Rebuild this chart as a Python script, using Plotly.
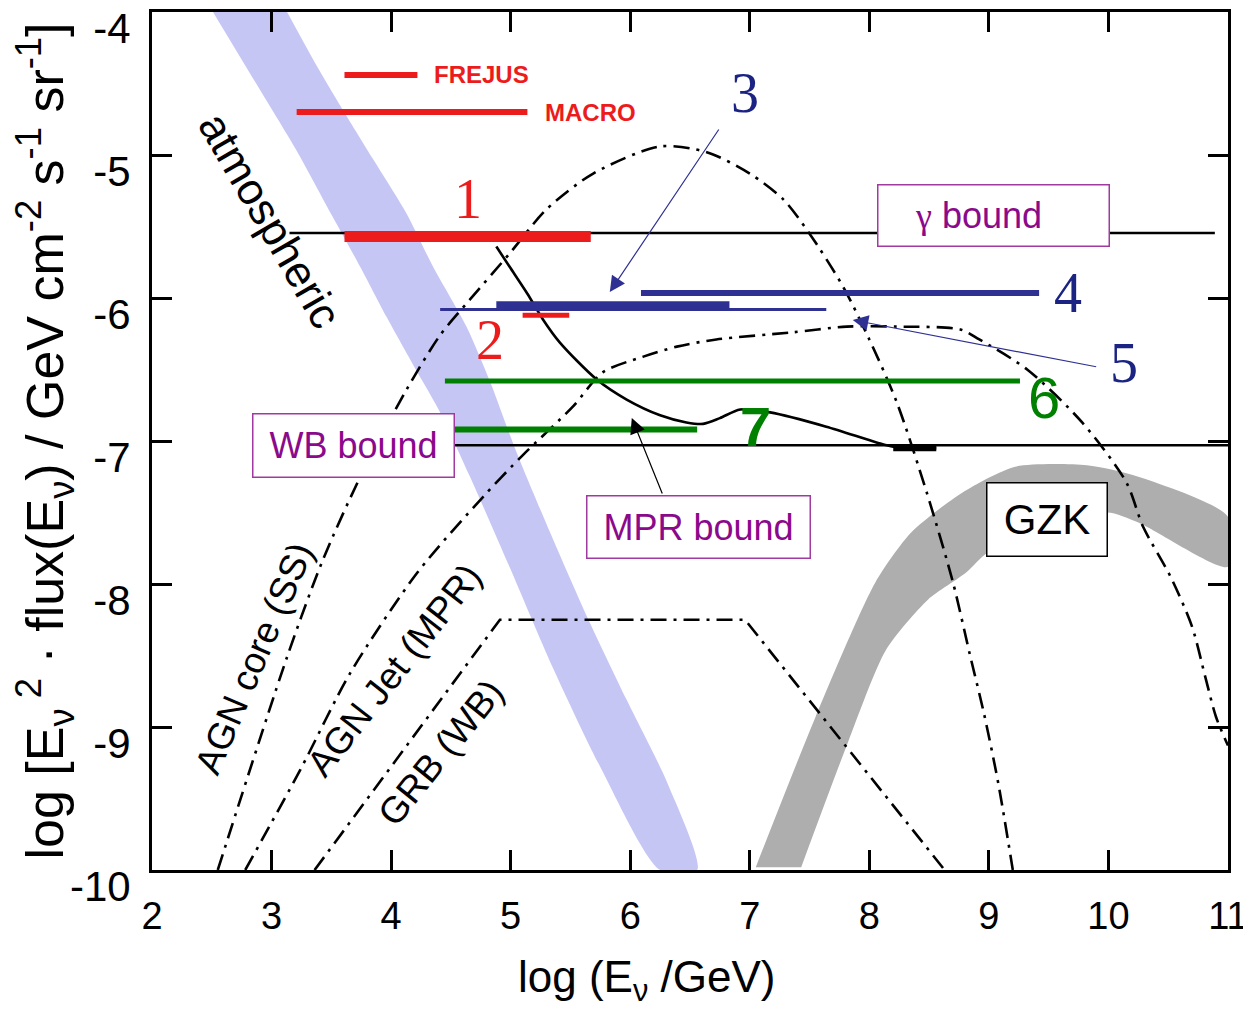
import plotly.graph_objects as go

# ---------------- data (log E [GeV], log E^2 flux) ----------------
# atmospheric neutrino band
atm_left_x = [2.51, 2.82, 3.21, 3.51, 3.74, 3.96, 4.22, 4.41, 4.66, 4.99, 5.35, 5.75, 6.25]
atm_left_y = [-4.00, -4.43, -4.97, -5.43, -5.78, -6.13, -6.52, -6.80, -7.25, -7.88, -8.58, -9.28, -10.0]
atm_right_x = [3.13, 3.38, 3.60, 3.85, 4.13, 4.35, 4.63, 4.83, 5.04, 5.33, 5.64, 5.97, 6.31, 6.56]
atm_right_y = [-4.00, -4.38, -4.69, -5.03, -5.41, -5.78, -6.20, -6.59, -7.06, -7.64, -8.23, -8.81, -9.39, -10.0]

# GZK band
gzk_upper_x = [7.05, 7.55, 8.05, 8.35, 8.78, 9.22, 9.82, 10.25, 11.0]
gzk_upper_y = [-9.98, -8.93, -7.99, -7.64, -7.36, -7.18, -7.17, -7.25, -7.53]
gzk_lower_x = [7.43, 7.82, 8.14, 8.49, 8.81, 8.99, 9.51, 9.99, 10.25, 11.0]
gzk_lower_y = [-9.98, -9.11, -8.46, -8.11, -7.92, -7.78, -7.62, -7.50, -7.57, -7.88]

# AGN core (SS)
agn_core_x = [2.55, 3.13, 3.43, 3.76, 4.13, 4.41, 4.66, 4.99, 5.30, 5.69, 6.25, 6.64, 7.00, 7.28,
              7.50, 7.78, 8.00, 8.23, 8.48, 8.70, 8.84, 8.96, 9.08, 9.20]
agn_core_y = [-10.0, -8.51, -7.83, -7.22, -6.64, -6.26, -6.01, -5.69, -5.38, -5.13, -4.94, -4.98,
              -5.13, -5.31, -5.55, -5.92, -6.29, -6.73, -7.36, -7.99, -8.49, -8.91, -9.40, -10.0]

# AGN jet (MPR)
agn_jet_x = [2.78, 3.24, 3.66, 4.22, 4.77, 5.10, 5.52, 5.77, 6.11, 6.39, 6.72, 7.36, 7.81, 8.23,
             8.76, 8.92, 9.32, 9.78, 10.15, 10.29, 10.52, 10.70, 10.81, 10.90, 11.0]
agn_jet_y = [-10.0, -9.30, -8.62, -7.92, -7.39, -7.10, -6.76, -6.52, -6.41, -6.34, -6.29, -6.24,
             -6.20, -6.20, -6.22, -6.29, -6.50, -6.87, -7.29, -7.60, -7.95, -8.30, -8.65, -8.93, -9.13]

# GRB (WB)
grb_x = [3.36, 4.91, 6.96, 8.63]
grb_y = [-10.0, -8.25, -8.25, -10.0]

# MPR bound
mpr_x = [4.88, 4.99, 5.14, 5.27, 5.41, 5.72, 5.97, 6.25, 6.47, 6.61, 6.75, 6.92, 7.17, 7.64, 8.06, 8.20, 8.56]
mpr_y = [-5.64, -5.78, -5.97, -6.15, -6.31, -6.57, -6.71, -6.82, -6.87, -6.88, -6.84, -6.78, -6.80,
         -6.90, -7.01, -7.04, -7.05]
mpr_end_x = [8.20, 8.56]
mpr_end_y = [-7.05, -7.05]

# gamma bound and WB bound
gamma_x = [3.15, 10.89]
gamma_y = [-5.545, -5.545]
wb_x = [4.45, 11.0]
wb_y = [-7.03, -7.03]

# experimental limits
frejus_x = [3.61, 4.22]
frejus_y = [-4.44, -4.44]
macro_x = [3.21, 5.14]
macro_y = [-4.70, -4.70]
lim1_x = [3.61, 5.67]
lim1_y = [-5.57, -5.57]
lim2_x = [5.10, 5.49]
lim2_y = [-6.12, -6.12]
lim3a_x = [4.41, 7.64]
lim3a_y = [-6.08, -6.08]
lim3b_x = [4.88, 6.83]
lim3b_y = [-6.05, -6.05]
lim4_x = [6.09, 9.42]
lim4_y = [-5.965, -5.965]
lim6_x = [4.45, 9.26]
lim6_y = [-6.58, -6.58]
lim7_x = [4.45, 6.56]
lim7_y = [-6.92, -6.92]

x_ticks = [2, 3, 4, 5, 6, 7, 8, 9, 10, 11]
y_ticks = [-10, -9, -8, -7, -6, -5, -4]

# ---------------- styles ----------------
SANS = "Liberation Sans"
SERIF = "Liberation Serif"
RED = "#ec1c1c"
NAVY = "#2e3192"
NAVY_TXT = "#1b2383"
GREEN = "#008000"
PURPLE = "#8b0a8b"
PURPLE_BORDER = "#a03aa0"
LAV = "#c6c6f5"
GRAY = "#aeaeae"
DASHDOT = "16px,7px,3px,7px"

fig = go.Figure()

# bands
fig.add_trace(go.Scatter(x=atm_left_x + atm_right_x[::-1], y=atm_left_y + atm_right_y[::-1],
                         fill="toself", fillcolor=LAV,
                         line=dict(width=0, color=LAV, shape="spline", smoothing=0.7),
                         mode="lines", hoverinfo="skip", name="atmospheric"))
fig.add_trace(go.Scatter(x=gzk_upper_x + gzk_lower_x[::-1], y=gzk_upper_y + gzk_lower_y[::-1],
                         fill="toself", fillcolor=GRAY,
                         line=dict(width=0, color=GRAY, shape="spline", smoothing=0.7),
                         mode="lines", hoverinfo="skip", name="GZK"))

def line(x, y, color, width, dash="solid", shape="linear"):
    fig.add_trace(go.Scatter(x=x, y=y, mode="lines",
                             line=dict(color=color, width=width, dash=dash, shape=shape, smoothing=0.8),
                             hoverinfo="skip", showlegend=False))

# model curves
line(agn_core_x, agn_core_y, "black", 2.6, DASHDOT, "spline")
line(agn_jet_x, agn_jet_y, "black", 2.6, DASHDOT, "spline")
line(grb_x, grb_y, "black", 2.6, DASHDOT)

# bounds
line(gamma_x, gamma_y, "black", 2.6)
line(wb_x, wb_y, "black", 2.6)
line(mpr_x, mpr_y, "black", 2.6, "solid", "spline")
line(mpr_end_x, mpr_end_y, "black", 6)

# limits
line(frejus_x, frejus_y, RED, 6)
line(macro_x, macro_y, RED, 6)
line(lim1_x, lim1_y, RED, 11)
line(lim2_x, lim2_y, RED, 5)
line(lim3a_x, lim3a_y, NAVY, 3)
line(lim3b_x, lim3b_y, NAVY, 8)
line(lim4_x, lim4_y, NAVY, 6)
line(lim6_x, lim6_y, GREEN, 5)
line(lim7_x, lim7_y, GREEN, 6)

ann = []

def text(x, y, s, size, color="black", family=SANS, angle=0, xanchor="center", bold=False):
    if bold:
        s = "<b>" + s + "</b>"
    ann.append(dict(x=x, y=y, xref="x", yref="y", text=s, showarrow=False, textangle=angle,
                    xanchor=xanchor, yanchor="middle",
                    font=dict(size=size, color=color, family=family)))

def box(x, y, s, size, w, h, color, border):
    ann.append(dict(x=x, y=y, xref="x", yref="y", text=s, showarrow=False,
                    xanchor="center", yanchor="middle", width=w, height=h, align="center",
                    bgcolor="white", bordercolor=border, borderwidth=1.5, borderpad=0,
                    font=dict(size=size, color=color, family=SANS)))

def arrow(xh, yh, xt, yt, color, width):
    ann.append(dict(x=xh, y=yh, ax=xt, ay=yt, xref="x", yref="y", axref="x", ayref="y",
                    text="", showarrow=True, arrowhead=2, arrowsize=2.6, arrowwidth=width,
                    arrowcolor=color, standoff=0))

text(4.341, -4.44, "FREJUS", 24, RED, xanchor="left", bold=True)
text(5.269, -4.706, "MACRO", 24, RED, xanchor="left", bold=True)
text(4.642, -5.308, "1", 56, RED, SERIF)
text(4.826, -6.294, "2", 56, RED, SERIF)
text(6.958, -4.566, "3", 56, NAVY_TXT, SERIF)
text(9.659, -5.965, "4", 56, NAVY_TXT, SERIF)
text(10.127, -6.455, "5", 56, NAVY_TXT, SERIF)
text(9.458, -6.699, "6", 58, GREEN)
text(7.050, -6.902, "7", 56, GREEN, bold=True)

text(2.99, -5.46, "atmospheric", 44, "black", angle=60)
text(2.861, -8.517, "AGN core (SS)", 37, "black", angle=-67)
text(4.032, -8.601, "AGN Jet (MPR)", 37, "black", angle=-52)
text(4.416, -9.175, "GRB (WB)", 37, "black", angle=-51)

arrow(5.829, -5.958, 6.749, -4.811, NAVY, 1.2)
arrow(7.861, -6.154, 9.910, -6.483, NAVY, 1.2)
arrow(6.013, -6.839, 6.273, -7.378, "black", 1.2)

box(9.036, -5.42, "<span style='font-family:Liberation Serif'>γ</span> bound&nbsp;&nbsp;&nbsp;", 36, 230, 60, PURPLE, PURPLE_BORDER)
box(3.685, -7.028, "WB bound", 36, 200, 62, PURPLE, PURPLE_BORDER)
box(6.569, -7.598, "MPR bound", 36, 222, 61, PURPLE, PURPLE_BORDER)
box(9.483, -7.552, "GZK", 42, 119, 72, "black", "black")

# x-axis title (placed like the original, slightly left of centre)
ann.append(dict(x=0.46, y=-0.093, xref="paper", yref="paper", text="log (E<sub>ν</sub> /GeV)",
                showarrow=False, xanchor="center", yanchor="top",
                font=dict(size=44, family=SANS, color="black")))

axis_common = dict(ticks="inside", ticklen=20, tickwidth=3, tickcolor="black",
                   showline=True, linewidth=3, linecolor="black", mirror="ticks",
                   showgrid=False, zeroline=False, automargin=False, ticklabeloverflow="allow")

# the page body adds an 8px offset; the figure is sized to fit inside the window
fig.update_layout(
    width=1243, height=1003,
    margin=dict(l=144, r=23, t=4, b=141, autoexpand=False),
    paper_bgcolor="white", plot_bgcolor="white",
    showlegend=False,
    annotations=ann,
    font=dict(family=SANS, color="black"),
    xaxis=dict(range=[2, 11], tickvals=x_ticks, ticktext=[str(v) for v in x_ticks],
               tickfont=dict(size=38, family=SANS, color="black"), ticklabelstandoff=10,
               **axis_common),
    yaxis=dict(range=[-10, -4], tickvals=y_ticks, ticktext=[str(v) for v in y_ticks],
               tickfont=dict(size=42, family=SANS, color="black"), ticklabelstandoff=10,
               ticklabelshift=16,
               title=dict(text="log [E<sub>ν</sub><sup> 2</sup> · flux(E<sub>ν</sub>) / GeV cm<sup>-2</sup> s<sup>-1</sup> sr<sup>-1</sup>]",
                          font=dict(size=52, family=SANS, color="black"), standoff=8),
               **axis_common),
)

fig.write_html("out.html")
